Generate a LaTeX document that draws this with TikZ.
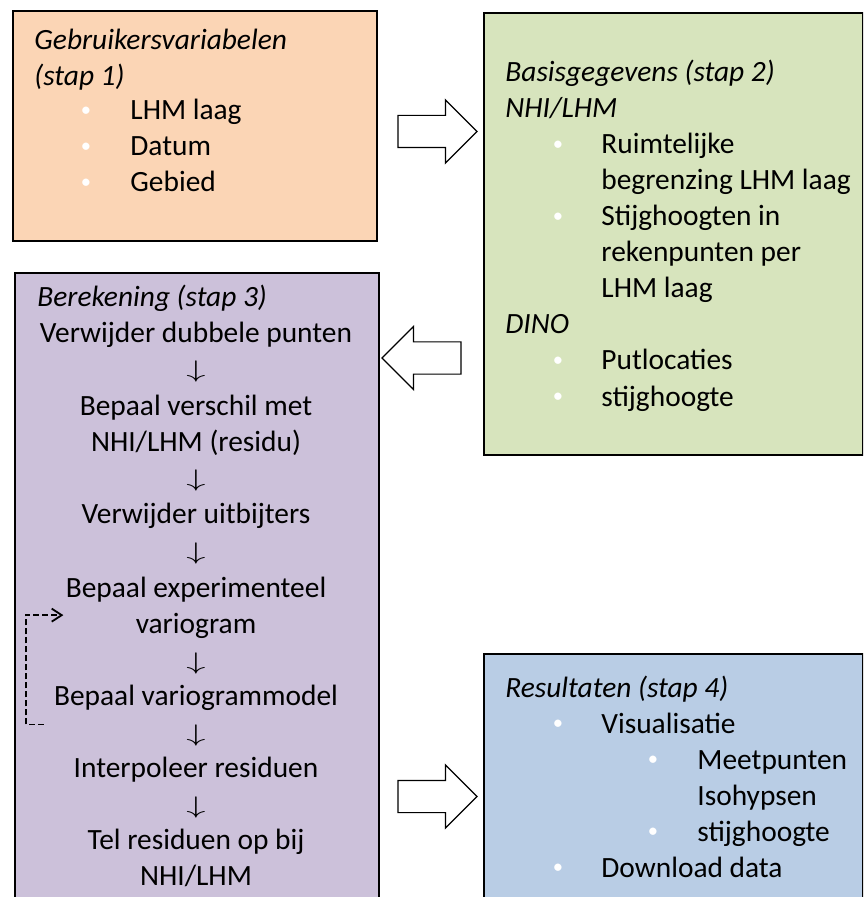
\documentclass[tikz,border=0pt]{standalone}
\usepackage{fontspec}
\setmainfont{Carlito}
\usetikzlibrary{positioning}
\usetikzlibrary{arrows.meta}
\usetikzlibrary{shapes.arrows}
\definecolor{peach}{HTML}{FBD5B5}
\definecolor{lightgreen}{HTML}{D7E4BD}
\definecolor{lilac}{HTML}{CCC1DA}
\definecolor{lightblue}{HTML}{B9CDE5}
\tikzset{
  % the four step boxes
  stapbox/.style={draw, line width=0.9pt, anchor=north west, inner sep=0pt},
  % one line of text
  regel/.style={anchor=base west, inner sep=0pt, font=\fontsize{14.7}{18}\selectfont},
  kop/.style={regel, font=\fontsize{14.7}{18}\selectfont\itshape},
  midden/.style={regel, anchor=base},
  neer/.style={midden, font=\fontsize{13}{16}\selectfont},
  % white list bullets
  bol/.style={regel, anchor=base, text=white},
  % block arrows between the boxes
  blokpijl/.style={draw, single arrow, line width=0.6pt, fill=white,
    minimum height=39.5pt, inner xsep=0pt, inner ysep=7.75pt,
    single arrow head extend=7.75pt, single arrow head indent=0pt},
  % loop back in step 3
  terug/.style={dash pattern=on 3pt off 1.5pt, line width=0.9pt,
    -{Straight Barb[length=5pt,width=6.5pt]}},
}
\newcommand{\opsom}{\raisebox{1.6pt}{\scalebox{0.7}{\textbullet}}}
\newcommand{\omlaag}{\scalebox{1.6}[1]{$\downarrow$}}
\begin{document}
\begin{tikzpicture}[x=0.5pt, y=-0.5pt]
  \clip (0,0) rectangle (863,897);

  % boxes
  \node[stapbox, fill=peach, minimum width=182pt, minimum height=115pt] (stap1) at (12,10) {};
  \node[stapbox, fill=lightgreen, minimum width=189.5pt, minimum height=221pt] (stap2) at (483,12) {};
  \node[stapbox, fill=lilac, minimum width=182pt, minimum height=319pt] (stap3) at (14,272) {};
  \node[stapbox, fill=lightblue, minimum width=189.5pt, minimum height=128.5pt] (stap4) at (483,653) {};

  % block arrows
  \node[blokpijl] (pijl12) at (429.5,131.5) {};
  \node[blokpijl, shape border rotate=180] (pijl23) at (429.5,358) {};
  \node[blokpijl] (pijl34) at (429.5,796.5) {};

  % step 1
  \node[kop] (kop1) at (34,50) {Gebruikersvariabelen};
  \node[kop] (kop1b) at (34,86) {(stap 1)};
  \node[bol] (bol11) at (86,120) {\opsom};
  \node[regel] (laag) at (130,120) {LHM laag};
  \node[bol] (bol12) at (86,156) {\opsom};
  \node[regel] (datum) at (130,156) {Datum};
  \node[bol] (bol13) at (86,192) {\opsom};
  \node[regel] (gebied) at (130,192) {Gebied};

  % step 2
  \node[kop] (kop2) at (505,82) {Basisgegevens (stap 2)};
  \node[kop] (nhi) at (505,118) {NHI/LHM};
  \node[bol] (bol21) at (558,154) {\opsom};
  \node[regel] (ruimte) at (601,154) {Ruimtelijke};
  \node[regel] (ruimteb) at (601,190) {begrenzing LHM laag};
  \node[bol] (bol22) at (558,226) {\opsom};
  \node[regel] (stijg) at (601,226) {Stijghoogten in};
  \node[regel] (stijgb) at (601,262) {rekenpunten per};
  \node[regel] (stijgc) at (601,298) {LHM laag};
  \node[kop] (dino) at (505,334) {DINO};
  \node[bol] (bol23) at (558,370) {\opsom};
  \node[regel] (put) at (601,370) {Putlocaties};
  \node[bol] (bol24) at (558,406) {\opsom};
  \node[regel] (hoogte) at (601,406) {stijghoogte};

  % step 3
  \node[kop] (kop3) at (37,307) {Berekening (stap 3)};
  \node[midden] (dubbel) at (196,343) {Verwijder dubbele punten};
  \node[neer] (neer1) at (196,378) {\omlaag};
  \node[midden] (verschil) at (196,415) {Bepaal verschil met};
  \node[midden] (verschilb) at (196,451) {NHI/LHM (residu)};
  \node[neer] (neer2) at (196,486) {\omlaag};
  \node[midden] (uitbijter) at (196,523) {Verwijder uitbijters};
  \node[neer] (neer3) at (196,559) {\omlaag};
  \node[midden] (exp) at (196,597) {Bepaal experimenteel};
  \node[midden] (expb) at (196,633) {variogram};
  \node[neer] (neer4) at (196,669) {\omlaag};
  \node[midden] (model) at (196,705) {Bepaal variogrammodel};
  \node[neer] (neer5) at (196,741) {\omlaag};
  \node[midden] (interpol) at (196,777) {Interpoleer residuen};
  \node[neer] (neer6) at (196,813) {\omlaag};
  \node[midden] (optel) at (196,849) {Tel residuen op bij};
  \node[midden] (optelb) at (196,885) {NHI/LHM};

  \draw[terug] ([shift={(-10,14)}]model.south west) -- ++(-18,0)
    |- ([shift={(-2,13)}]exp.south west);

  % step 4
  \node[kop] (kop4) at (505,697) {Resultaten (stap 4)};
  \node[bol] (bol41) at (558,733) {\opsom};
  \node[regel] (visu) at (601,733) {Visualisatie};
  \node[bol] (bol42) at (653,769) {\opsom};
  \node[regel] (meet) at (697,769) {Meetpunten};
  \node[regel] (iso) at (697,805) {Isohypsen};
  \node[bol] (bol43) at (653,841) {\opsom};
  \node[regel] (hoogte4) at (697,841) {stijghoogte};
  \node[bol] (bol44) at (558,877) {\opsom};
  \node[regel] (download) at (601,877) {Download data};
\end{tikzpicture}
\end{document}
